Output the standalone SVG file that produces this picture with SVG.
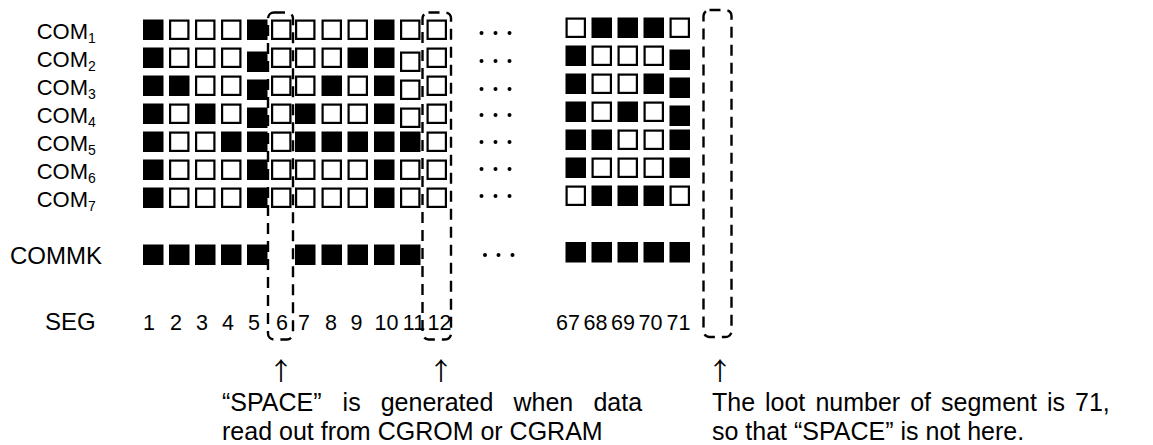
<svg xmlns="http://www.w3.org/2000/svg" xmlns:xlink="http://www.w3.org/1999/xlink" width="1153" height="445" viewBox="0 0 1153 445">
<style>
.t{font-family:"Liberation Sans",Arial,sans-serif;fill:#000}
.lab{font-size:22px}
.sub{font-size:14px}
.big{font-size:24px}
.seg{font-size:21.5px;text-anchor:middle}
.note{font-size:25px}
.arr{font-family:"Noto Sans CJK SC","Liberation Sans",sans-serif;font-size:25px;text-anchor:middle;fill:#000}
.box{fill:none;stroke:#000;stroke-width:2.4;stroke-dasharray:11 7}
.dot{fill:#000}
</style>
<defs>
<rect id="F" width="20.5" height="20.5" fill="#000"/>
<rect id="E" x="1.1" y="1.1" width="18.3" height="18.3" fill="#fff" stroke="#000" stroke-width="2.2"/>
</defs>
<rect width="1153" height="445" fill="#fff"/>

<g id="row-labels">
<text class="t lab" x="36.7" y="39.3">COM<tspan class="sub" dy="3.5">1</tspan></text>
<text class="t lab" x="36.7" y="67.3">COM<tspan class="sub" dy="3.5">2</tspan></text>
<text class="t lab" x="36.7" y="95.3">COM<tspan class="sub" dy="3.5">3</tspan></text>
<text class="t lab" x="36.7" y="123.3">COM<tspan class="sub" dy="3.5">4</tspan></text>
<text class="t lab" x="36.7" y="151.3">COM<tspan class="sub" dy="3.5">5</tspan></text>
<text class="t lab" x="36.7" y="179.3">COM<tspan class="sub" dy="3.5">6</tspan></text>
<text class="t lab" x="36.7" y="207.3">COM<tspan class="sub" dy="3.5">7</tspan></text>
<text class="t big" x="10" y="263.5">COMMK</text>
<text class="t big" x="45" y="330">SEG</text>
</g>

<g id="char-1-to-12">
<g transform="translate(0,19.5)">
<use href="#F" x="143"/><use href="#E" x="169"/><use href="#E" x="195"/><use href="#E" x="221"/><use href="#F" x="247"/><use href="#E" x="271"/>
<use href="#E" x="295"/><use href="#E" x="321.5"/><use href="#E" x="347.5"/><use href="#F" x="374"/><use href="#E" x="400"/><use href="#E" x="426.5"/>
</g>
<g transform="translate(0,47.5)">
<use href="#F" x="143"/><use href="#E" x="169"/><use href="#E" x="195"/><use href="#E" x="221"/><use href="#F" x="247" y="4"/><use href="#E" x="271"/>
<use href="#E" x="295"/><use href="#E" x="321.5"/><use href="#F" x="347.5"/><use href="#F" x="374"/><use href="#E" x="400" y="4"/><use href="#E" x="426.5"/>
</g>
<g transform="translate(0,75.5)">
<use href="#F" x="143"/><use href="#F" x="169"/><use href="#E" x="195"/><use href="#E" x="221"/><use href="#F" x="247" y="4"/><use href="#E" x="271"/>
<use href="#E" x="295"/><use href="#F" x="321.5"/><use href="#E" x="347.5"/><use href="#F" x="374"/><use href="#E" x="400" y="4"/><use href="#E" x="426.5"/>
</g>
<g transform="translate(0,103.5)">
<use href="#F" x="143"/><use href="#E" x="169"/><use href="#F" x="195"/><use href="#E" x="221"/><use href="#F" x="247" y="4"/><use href="#E" x="271"/>
<use href="#F" x="295"/><use href="#E" x="321.5"/><use href="#E" x="347.5"/><use href="#F" x="374"/><use href="#E" x="400" y="4"/><use href="#E" x="426.5"/>
</g>
<g transform="translate(0,131.5)">
<use href="#F" x="143"/><use href="#E" x="169"/><use href="#E" x="195"/><use href="#F" x="221"/><use href="#F" x="247"/><use href="#E" x="271"/>
<use href="#F" x="295"/><use href="#F" x="321.5"/><use href="#F" x="347.5"/><use href="#F" x="374"/><use href="#F" x="400"/><use href="#E" x="426.5"/>
</g>
<g transform="translate(0,159.5)">
<use href="#F" x="143"/><use href="#E" x="169"/><use href="#E" x="195"/><use href="#E" x="221"/><use href="#F" x="247"/><use href="#E" x="271"/>
<use href="#E" x="295"/><use href="#E" x="321.5"/><use href="#E" x="347.5"/><use href="#F" x="374"/><use href="#E" x="400"/><use href="#E" x="426.5"/>
</g>
<g transform="translate(0,187.5)">
<use href="#F" x="143"/><use href="#E" x="169"/><use href="#E" x="195"/><use href="#E" x="221"/><use href="#F" x="247"/><use href="#E" x="271"/>
<use href="#E" x="295"/><use href="#E" x="321.5"/><use href="#E" x="347.5"/><use href="#F" x="374"/><use href="#E" x="400"/><use href="#E" x="426.5"/>
</g>
</g>

<g id="char-67-to-71">
<g transform="translate(0,17.5)"><use href="#E" x="565.5"/><use href="#F" x="591.5"/><use href="#F" x="617.5"/><use href="#F" x="643.5"/><use href="#E" x="669.5"/></g>
<g transform="translate(0,45.5)"><use href="#F" x="565.5"/><use href="#E" x="591.5"/><use href="#E" x="617.5"/><use href="#E" x="643.5"/><use href="#F" x="669.5" y="4"/></g>
<g transform="translate(0,73.5)"><use href="#F" x="565.5"/><use href="#E" x="591.5"/><use href="#E" x="617.5"/><use href="#F" x="643.5"/><use href="#F" x="669.5" y="4"/></g>
<g transform="translate(0,101.5)"><use href="#F" x="565.5"/><use href="#E" x="591.5"/><use href="#F" x="617.5"/><use href="#E" x="643.5"/><use href="#F" x="669.5" y="4"/></g>
<g transform="translate(0,129.5)"><use href="#F" x="565.5"/><use href="#F" x="591.5"/><use href="#E" x="617.5"/><use href="#E" x="643.5"/><use href="#F" x="669.5"/></g>
<g transform="translate(0,157.5)"><use href="#F" x="565.5"/><use href="#E" x="591.5"/><use href="#E" x="617.5"/><use href="#E" x="643.5"/><use href="#F" x="669.5"/></g>
<g transform="translate(0,185.5)"><use href="#E" x="565.5"/><use href="#F" x="591.5"/><use href="#F" x="617.5"/><use href="#F" x="643.5"/><use href="#E" x="669.5"/></g>
</g>

<g id="commk-row">
<g transform="translate(0,244.5)">
<use href="#F" x="143"/><use href="#F" x="169"/><use href="#F" x="195"/><use href="#F" x="221"/><use href="#F" x="247"/>
<use href="#F" x="295"/><use href="#F" x="321.5"/><use href="#F" x="347.5"/><use href="#F" x="374"/><use href="#F" x="400"/>
</g>
<g transform="translate(0,242)">
<use href="#F" x="565.5"/><use href="#F" x="591.5"/><use href="#F" x="617.5"/><use href="#F" x="643.5"/><use href="#F" x="669.5"/>
</g>
</g>

<g id="ellipses">
<circle class="dot" cx="481.5" cy="33" r="2"/><circle class="dot" cx="495.5" cy="33" r="2"/><circle class="dot" cx="509.5" cy="33" r="2"/>
<circle class="dot" cx="481.5" cy="61" r="2"/><circle class="dot" cx="495.5" cy="61" r="2"/><circle class="dot" cx="509.5" cy="61" r="2"/>
<circle class="dot" cx="481.5" cy="89" r="2"/><circle class="dot" cx="495.5" cy="89" r="2"/><circle class="dot" cx="509.5" cy="89" r="2"/>
<circle class="dot" cx="481.5" cy="115" r="2"/><circle class="dot" cx="495.5" cy="115" r="2"/><circle class="dot" cx="509.5" cy="115" r="2"/>
<circle class="dot" cx="481.5" cy="142" r="2"/><circle class="dot" cx="495.5" cy="142" r="2"/><circle class="dot" cx="509.5" cy="142" r="2"/>
<circle class="dot" cx="481.5" cy="169" r="2"/><circle class="dot" cx="495.5" cy="169" r="2"/><circle class="dot" cx="509.5" cy="169" r="2"/>
<circle class="dot" cx="481.5" cy="196" r="2"/><circle class="dot" cx="495.5" cy="196" r="2"/><circle class="dot" cx="509.5" cy="196" r="2"/>
<circle class="dot" cx="485" cy="255" r="2"/><circle class="dot" cx="498.5" cy="255" r="2"/><circle class="dot" cx="512.5" cy="255" r="2"/>
</g>

<g id="seg-numbers" class="t">
<text class="seg" x="149" y="330">1</text>
<text class="seg" x="176" y="330">2</text>
<text class="seg" x="202" y="330">3</text>
<text class="seg" x="228" y="330">4</text>
<text class="seg" x="254" y="330">5</text>
<text class="seg" x="282" y="330">6</text>
<text class="seg" x="304" y="330">7</text>
<text class="seg" x="331" y="330">8</text>
<text class="seg" x="356.5" y="330">9</text>
<text class="seg" x="386.5" y="330">10</text>
<text class="seg" x="414" y="330">11</text>
<text class="seg" x="439.5" y="330">12</text>
<text class="seg" x="568" y="330">67</text>
<text class="seg" x="595.5" y="330">68</text>
<text class="seg" x="623" y="330">69</text>
<text class="seg" x="650.5" y="330">70</text>
<text class="seg" x="678.5" y="330">71</text>
</g>

<g id="space-boxes">
<rect class="box" x="268" y="12.5" width="25" height="327" rx="6"/>
<rect class="box" x="422.5" y="12.5" width="28.5" height="327" rx="6"/>
<rect class="box" x="703.5" y="10" width="28" height="327" rx="6"/>
</g>

<g id="connectors">
<text class="arr" x="281" y="380">↑</text>
<text class="arr" x="441" y="380">↑</text>
<text class="arr" x="720" y="380">↑</text>
</g>

<g id="note-left" class="t note">
<text y="411"><tspan x="222">“SPACE”</tspan><tspan x="342.6">is</tspan><tspan x="380.7">generated</tspan><tspan x="513.5">when</tspan><tspan x="593.4">data</tspan></text>
<text x="222" y="440">read out from CGROM or CGRAM</text>
</g>

<g id="note-right" class="t note">
<text y="411"><tspan x="712">The</tspan><tspan x="765">loot</tspan><tspan x="815.4">number</tspan><tspan x="910.2">of</tspan><tspan x="941">segment</tspan><tspan x="1047">is</tspan><tspan x="1075">71,</tspan></text>
<text x="712" y="440">so that “SPACE” is not here.</text>
</g>
</svg>
